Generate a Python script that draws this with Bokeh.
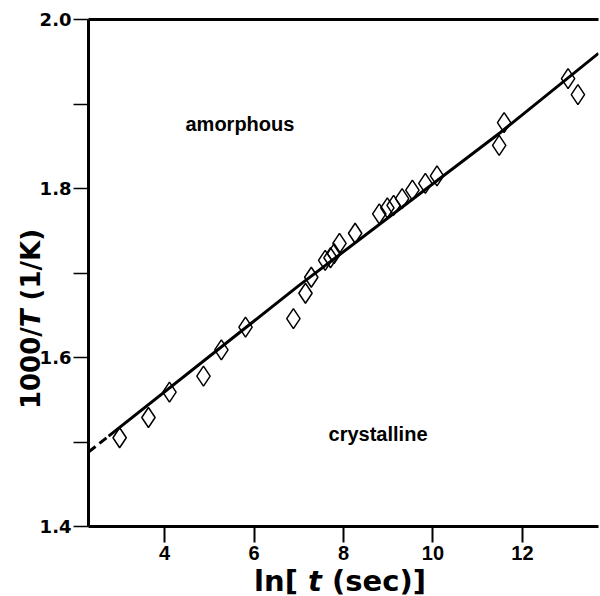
from bokeh.plotting import figure
from bokeh.models import Range1d, FixedTicker, LinearAxis, Label, PrintfTickFormatter, Div
from bokeh.layouts import row, column
from bokeh.embed import file_html
from bokeh.resources import INLINE

# ---- data ----
ln_t = [2.996, 3.64, 4.11, 4.87, 5.27, 5.81, 6.88, 7.15, 7.28, 7.59, 7.71, 7.79, 7.91,
        8.26, 8.80, 8.98, 9.12, 9.31, 9.54, 9.83, 10.09, 11.48, 11.59, 13.02, 13.24]
inv_T = [1.505, 1.529, 1.559, 1.578, 1.609, 1.636, 1.646, 1.676, 1.695, 1.715, 1.718, 1.723, 1.735,
         1.747, 1.770, 1.777, 1.780, 1.788, 1.798, 1.806, 1.815, 1.851, 1.878, 1.930, 1.911]

fit_x_dashed = [2.3, 2.75]
fit_y_dashed = [1.488, 1.507]
fit_x = [2.75, 7.0, 11.5, 13.7]
fit_y = [1.507, 1.685, 1.866, 1.960]

x_ticks = [4, 6, 8, 10, 12]
y_ticks = [1.4, 1.6, 1.8, 2.0]
y_minor_ticks = [1.5, 1.7, 1.9]

# ---- layout (pixels of the 600x596 page) ----
X0, X1 = 2.3, 13.7
Y0, Y1 = 1.4, 2.0
FL, FT, FW, FH = 88, 19, 510, 507      # frame left/top/width/height on the page
W, H = 600, 596
YDIV_W = 34                            # strip holding the y-axis title
XDIV_H = 34                            # strip holding the x-axis title
PW = W - YDIV_W
PH = H - XDIV_H


def dx(px):
    return X0 + (px - FL) / FW * (X1 - X0)


def dy(py):
    return Y1 - (py - FT) / FH * (Y1 - Y0)


p = figure(width=PW, height=PH, x_range=Range1d(X0, X1), y_range=Range1d(Y0, Y1),
           output_backend="svg", toolbar_location=None,
           min_border_left=FL - YDIV_W, min_border_right=PW - (FL - YDIV_W) - FW,
           min_border_top=FT, min_border_bottom=PH - FT - FH)
p.xgrid.visible = False
p.ygrid.visible = False
p.outline_line_color = None
p.background_fill_color = "white"
p.border_fill_alpha = 0

xa = p.xaxis[0]
xa.ticker = FixedTicker(ticks=x_ticks, minor_ticks=[])
xa.axis_line_width = 3
xa.major_tick_in = 0
xa.major_tick_out = 16
xa.major_tick_line_width = 2
xa.minor_tick_line_color = None
xa.major_label_standoff = 3
xa.major_label_text_font = "Liberation Sans"
xa.major_label_text_font_style = "bold"
xa.major_label_text_font_size = "20px"
xa.major_label_text_color = "black"

ya = p.yaxis[0]
ya.ticker = FixedTicker(ticks=y_ticks, minor_ticks=y_minor_ticks)
ya.formatter = PrintfTickFormatter(format="%.1f")
ya.axis_line_width = 3
ya.major_tick_in = 0
ya.major_tick_out = 15
ya.minor_tick_in = 0
ya.minor_tick_out = 15
ya.major_tick_line_width = 1.5
ya.minor_tick_line_width = 1.5
ya.major_label_standoff = 2
ya.major_label_text_font = "DejaVu Sans"
ya.major_label_text_font_style = "bold"
ya.major_label_text_font_size = "18px"
ya.major_label_text_color = "black"

top = LinearAxis(ticker=FixedTicker(ticks=[]), axis_line_width=3,
                 major_tick_line_color=None, minor_tick_line_color=None,
                 major_label_text_font_size="0px")
p.add_layout(top, "above")

# fit line (dashed extrapolation, then solid)
p.line(fit_x_dashed, fit_y_dashed, line_color="black", line_width=3, line_dash="9 5")
p.line(fit_x, fit_y, line_color="black", line_width=3)

# data points
p.scatter(ln_t, inv_T, marker="diamond", size=20, fill_color=None,
          line_color="black", line_width=1.5)

# region labels
p.add_layout(Label(x=dx(185), y=dy(123), text="amorphous", text_font="Liberation Sans",
                   text_font_style="bold", text_font_size="20px", text_color="black",
                   text_align="left", text_baseline="middle"))
p.add_layout(Label(x=dx(427), y=dy(433), text="crystalline", text_font="Liberation Sans",
                   text_font_style="bold", text_font_size="20px", text_color="black",
                   text_align="right", text_baseline="middle"))

# axis titles with italic T / t, as HTML text
font_css = "font-family:'DejaVu Sans';font-weight:bold;color:black;line-height:1;white-space:nowrap;"
ytitle = Div(width=YDIV_W, height=PH, margin=0, text=(
    f'<div style="position:relative;width:{YDIV_W}px;height:{PH}px;overflow:visible;">'
    f'<div style="position:absolute;left:31px;top:319px;'
    f'transform:translate(-50%,-50%) rotate(-90deg);{font_css}font-size:26px;">'
    '1000/<i>T</i> (1/K)</div></div>'))
xtitle = Div(width=W, height=XDIV_H, margin=0, text=(
    f'<div style="position:relative;width:{W}px;height:{XDIV_H}px;overflow:visible;">'
    f'<div style="position:absolute;left:340px;top:{581 - PH}px;'
    f'transform:translate(-50%,-50%);{font_css}font-size:29px;">'
    'ln[ <i>t</i> (sec)]</div></div>'))

layout = column(row(ytitle, p, spacing=0, margin=0), xtitle, spacing=0, margin=0)

open("out.html", "w").write(file_html(layout, INLINE))
